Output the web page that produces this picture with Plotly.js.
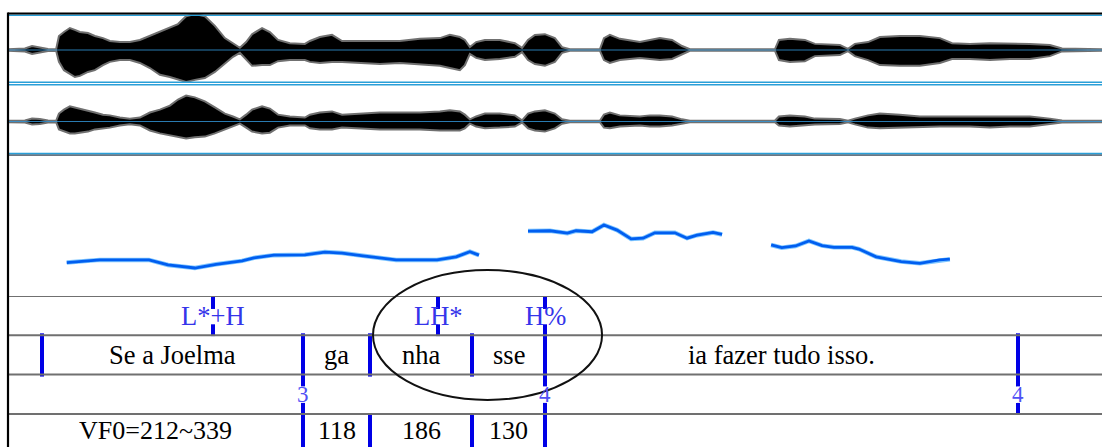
<!DOCTYPE html>
<html><head><meta charset="utf-8">
<script src="https://cdn.plot.ly/plotly-3.0.1.min.js"></script>
<style>html,body{margin:0;padding:0;background:#fff}#chart{width:1102px;height:447px}</style>
</head><body><div id="chart"></div>
<script>
// ---- waveform envelope (time in s, amplitude normalised) ----
const waveT = [0,0.054,0.077,0.102,0.128,0.154,0.163,0.179,0.198,0.214,
  0.230,0.256,0.278,0.304,0.326,0.358,0.390,0.422,0.454,0.486,
  0.518,0.544,0.570,0.598,0.630,0.662,0.694,0.720,0.742,0.762,
  0.781,0.813,0.838,0.864,0.902,0.950,0.966,0.998,1.037,1.069,
  1.126,1.190,1.254,1.318,1.382,1.414,1.446,1.462,1.478,1.498,
  1.526,1.574,1.622,1.645,1.664,1.686,1.718,1.750,1.773,1.798,
  1.894,1.907,1.926,1.958,2.022,2.054,2.086,2.125,2.157,2.182,
  2.454,2.467,2.502,2.550,2.582,2.662,2.688,2.710,2.752,2.790,
  2.854,2.918,2.982,3.021,3.078,3.142,3.206,3.270,3.334,3.373,3.501];
const ch1Upper = [0.02,0.04,0.11,0.08,0.03,0.02,0.39,0.5,0.61,0.56,
  0.5,0.47,0.39,0.33,0.25,0.22,0.22,0.28,0.39,0.5,
  0.61,0.72,0.94,1.0,0.94,0.67,0.33,0.17,0.06,0.22,
  0.44,0.61,0.5,0.28,0.19,0.17,0.25,0.36,0.42,0.25,
  0.25,0.25,0.25,0.31,0.33,0.42,0.36,0.28,0.08,0.22,
  0.28,0.28,0.19,0.06,0.28,0.42,0.44,0.33,0.08,0.02,
  0.02,0.33,0.42,0.31,0.22,0.28,0.33,0.28,0.11,0.02,
  0.02,0.28,0.31,0.28,0.17,0.14,0.03,0.17,0.22,0.36,
  0.39,0.39,0.33,0.19,0.17,0.19,0.19,0.17,0.14,0.04,0.02];
const ch1Lower = [-0.02,-0.04,-0.11,-0.08,-0.03,-0.02,-0.33,-0.56,-0.67,-0.75,
  -0.72,-0.61,-0.56,-0.42,-0.33,-0.28,-0.28,-0.36,-0.5,-0.69,
  -0.75,-0.83,-0.89,-0.83,-0.78,-0.61,-0.39,-0.19,-0.08,-0.28,
  -0.44,-0.42,-0.42,-0.31,-0.28,-0.28,-0.33,-0.36,-0.33,-0.33,
  -0.36,-0.39,-0.36,-0.39,-0.44,-0.5,-0.56,-0.42,-0.11,-0.22,
  -0.28,-0.25,-0.19,-0.06,-0.28,-0.39,-0.44,-0.33,-0.08,-0.02,
  -0.02,-0.28,-0.36,-0.28,-0.22,-0.25,-0.28,-0.25,-0.11,-0.02,
  -0.02,-0.28,-0.33,-0.31,-0.17,-0.14,-0.03,-0.17,-0.28,-0.42,
  -0.44,-0.44,-0.36,-0.25,-0.25,-0.28,-0.25,-0.25,-0.17,-0.04,-0.02];
const ch2Upper = [0.02,0.03,0.08,0.07,0.03,0.02,0.22,0.33,0.42,0.39,
  0.36,0.31,0.25,0.19,0.17,0.11,0.08,0.11,0.25,0.33,
  0.44,0.61,0.72,0.67,0.56,0.39,0.22,0.14,0.06,0.19,
  0.33,0.42,0.36,0.19,0.14,0.11,0.19,0.25,0.28,0.19,
  0.22,0.25,0.25,0.25,0.28,0.31,0.28,0.19,0.06,0.14,
  0.22,0.22,0.17,0.03,0.22,0.28,0.31,0.22,0.06,0.02,
  0.02,0.19,0.25,0.17,0.14,0.17,0.17,0.14,0.06,0.02,
  0.02,0.14,0.17,0.14,0.08,0.07,0.02,0.08,0.17,0.22,
  0.19,0.14,0.14,0.14,0.14,0.14,0.14,0.14,0.08,0.03,0.02];
const ch2Lower = [-0.02,-0.03,-0.08,-0.07,-0.03,-0.02,-0.22,-0.28,-0.33,-0.33,
  -0.31,-0.28,-0.22,-0.19,-0.17,-0.11,-0.08,-0.11,-0.25,-0.33,
  -0.39,-0.44,-0.47,-0.44,-0.42,-0.33,-0.22,-0.14,-0.06,-0.17,
  -0.28,-0.33,-0.31,-0.17,-0.11,-0.11,-0.19,-0.22,-0.22,-0.17,
  -0.19,-0.22,-0.22,-0.22,-0.25,-0.25,-0.25,-0.19,-0.06,-0.14,
  -0.19,-0.17,-0.14,-0.03,-0.19,-0.25,-0.28,-0.19,-0.06,-0.02,
  -0.02,-0.17,-0.19,-0.14,-0.11,-0.14,-0.14,-0.11,-0.06,-0.02,
  -0.02,-0.11,-0.14,-0.11,-0.08,-0.07,-0.02,-0.08,-0.17,-0.19,
  -0.17,-0.14,-0.14,-0.14,-0.14,-0.17,-0.14,-0.14,-0.08,-0.03,-0.02];

// ---- pitch contour (s, Hz); null = unvoiced gap ----
const pitchT = [0.188,0.294,0.451,0.512,0.598,0.666,0.749,0.787,0.851,0.950,1.014,1.069,1.136,1.210,1.242,1.373,1.434,1.478,1.507,null,
  1.664,1.734,1.790,1.818,1.869,1.907,1.949,1.994,2.032,2.070,2.134,2.173,2.205,2.256,2.285,null,
  2.442,2.476,2.520,2.563,2.605,2.643,2.701,2.723,2.778,2.858,2.918,2.981,3.014];
const pitchHz = [228,236,236,221,212,223,233,242,250,251,259,256,248,239,236,236,245,260,250,null,
  321,322,315,322,319,339,324,298,300,316,316,300,309,317,311,null,
  280,272,277,292,278,273,273,268,245,231,226,236,238];

// ---- TextGrid tiers ----
const toneT = [0.656,1.376,1.7184];
const toneLabels = ["L*+H","LH*","H%"];
const wordBounds = [0.1088,0.944,1.1584,1.4848,1.7184,3.232];
const wordLabels = ["Se a Joelma","ga","nha","sse","ia fazer tudo isso."];
const breakT = [0.944,1.7184,3.232];
const breakLabels = ["3","4","4"];
const vfBounds = [0,0.944,1.1584,1.4848,1.7184];
const vfLabels = ["VF0=212~339","118","186","130"];

// ---- layout helpers ----
const W=1102,H=447,MT=13,PH=H-MT;
const pf = py => (H-py)/PH;
const tEnd = 3.5008;
const BLUE='#0000e6', SERIF='Liberation Serif';

function mids(b){const m=[];for(let i=0;i<b.length-1;i++)m.push((b[i]+b[i+1])/2);return m;}
function vlines(ts,y0,y1){const x=[],y=[];ts.forEach(t=>{x.push(t,t,null);y.push(y0,y1,null);});return {x,y};}

const traces=[];
// waveforms
[['y',ch1Upper,ch1Lower],['y2',ch2Upper,ch2Lower]].forEach(([ya,u,l])=>{
  traces.push({x:waveT,y:u,yaxis:ya,mode:'lines',line:{color:'#707070',width:2}});
  traces.push({x:waveT,y:l,yaxis:ya,mode:'lines',line:{color:'#707070',width:2},fill:'tonexty',fillcolor:'#000'});
  traces.push({x:[0,tEnd],y:[0,0],yaxis:ya,mode:'lines',line:{color:'#3399dd',width:0.8},hoverinfo:'skip'});
});
// pitch
traces.push({x:pitchT,y:pitchHz,yaxis:'y3',mode:'lines',connectgaps:false,line:{color:'#7fc6ff',width:4.5}});
traces.push({x:pitchT,y:pitchHz,yaxis:'y3',mode:'lines',connectgaps:false,line:{color:'#005ef0',width:2.8}});

// tier boundaries
const segs=[vlines(wordBounds,0.95,2.05),vlines(toneT,0.02,0.33),vlines(toneT,0.72,1.02),
  vlines(breakT,2.0,2.3),vlines(breakT,2.72,3.0),vlines(vfBounds.slice(1),3.0,3.9)];
segs.forEach(s=>traces.push({x:s.x,y:s.y,yaxis:'y4',mode:'lines',line:{color:BLUE,width:4},hoverinfo:'skip'}));

// tier texts as annotations on the time axis
const annotations=[];
function txt(x,labels,yv,color,size){x.forEach((xv,i)=>annotations.push({x:xv,y:yv,xref:'x',yref:'y4',text:labels[i],showarrow:false,
  xanchor:'center',yanchor:'middle',font:{family:SERIF,size:size,color:color}}));}
txt(toneT,toneLabels,0.5,'#3535ea',26.5);
txt(mids(wordBounds),wordLabels,1.5,'#000',26.5);
txt(breakT,breakLabels,2.5,'#5050f5',23);
txt(mids(vfBounds),vfLabels,3.42,'#000',26);

const hid={visible:false,fixedrange:true};
const shapes=[];
function hline(py,color,w){shapes.push({type:'line',xref:'paper',yref:'paper',x0:0,x1:1,y0:pf(py),y1:pf(py),line:{color:color,width:w}});}
hline(15.3,'#2a9fd8',1.6);
hline(82.2,'#2a9fd8',1.6);
hline(84.8,'#2a9fd8',1.6);
hline(153.6,'#2a9fd8',1.6);
hline(155.1,'#3a4a5a',1.4);
hline(13.5,'#000',2);
[0,1,2,3].forEach(k=>shapes.push({type:'line',xref:'paper',yref:'y4',x0:0,x1:1,y0:k,y1:k,line:{color:'#707070',width:2}}));
shapes.push({type:'line',xref:'paper',yref:'paper',x0:0,x1:0,y0:0,y1:pf(12.5),line:{color:'#000',width:2.2}});
// ellipse highlighting "nha sse" / LH* H%
shapes.push({type:'circle',xref:'x',yref:'paper',x0:1.168,x1:1.901,y0:pf(400),y1:pf(270),line:{color:'#111',width:2}});

const layout={width:W,height:H,margin:{l:8,r:0,t:MT,b:0},paper_bgcolor:'#fff',plot_bgcolor:'rgba(0,0,0,0)',showlegend:false,
  font:{family:SERIF},
  xaxis:{range:[0,tEnd],...hid},
  yaxis:{domain:[pf(86),pf(14)],range:[-1,1],...hid},
  yaxis2:{domain:[pf(157.5),pf(85.5)],range:[-1,1],...hid},
  yaxis3:{domain:[pf(295),pf(155)],range:[132.3,545.7],...hid},
  yaxis4:{domain:[0,pf(296)],range:[(H-296)/39.3,0],...hid},
  shapes:shapes,annotations:annotations};
Plotly.newPlot('chart',traces,layout,{displayModeBar:false,staticPlot:true});
</script></body></html>
